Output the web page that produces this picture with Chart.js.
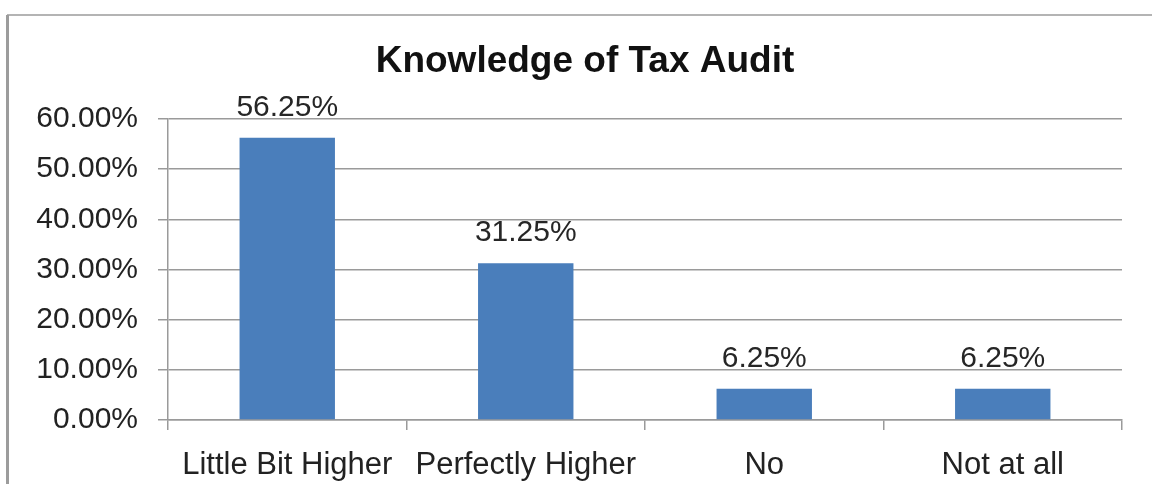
<!DOCTYPE html>
<html>
<head>
<meta charset="utf-8">
<title>Knowledge of Tax Audit</title>
<script src="https://cdn.jsdelivr.net/npm/chart.js@4/dist/chart.umd.min.js"></script>
<style>
  html, body { margin: 0; padding: 0; background: #fff; }
  #wrap { width: 1152px; height: 484px; }
</style>
</head>
<body>
<div id="wrap"><canvas id="myChart" width="1152" height="484"></canvas></div>
<script>
// Survey answers (percent of respondents)
const chartTitle = 'Knowledge of Tax Audit';
const categories = ['Little Bit Higher', 'Perfectly Higher', 'No', 'Not at all'];
const shares = [56.25, 31.25, 6.25, 6.25];
const yTicks = [0, 10, 20, 30, 40, 50, 60];

const FONT = "'Liberation Sans', Arial, sans-serif";
const gridGray = '#9a9a9a';

// white background, frame lines along the top and left edge, and the heading
const framePlugin = {
    id: 'frame',
    beforeDraw(chart) {
        const c = chart.ctx;
        c.save();
        c.fillStyle = '#fff';
        c.fillRect(0, 0, chart.width, chart.height);
        c.strokeStyle = '#b4b4b4';
        c.lineWidth = 2;
        c.beginPath();
        c.moveTo(7, 15);
        c.lineTo(chart.width, 15);
        c.stroke();
        c.strokeStyle = '#9c9c9c';
        c.lineWidth = 3;
        c.beginPath();
        c.moveTo(7.5, 15);
        c.lineTo(7.5, chart.height);
        c.stroke();

        // heading sits a little right of the canvas centre
        c.font = 'bold 37px ' + FONT;
        c.fillStyle = '#111';
        c.textAlign = 'center';
        c.textBaseline = 'alphabetic';
        c.fillText(chartTitle, 585, 72);
        c.restore();
    }
};

// value text above each bar
const valueLabels = {
    id: 'valueLabels',
    afterDatasetsDraw(chart) {
        const c = chart.ctx;
        const meta = chart.getDatasetMeta(0);
        c.save();
        c.font = '30px ' + FONT;
        c.fillStyle = '#262626';
        c.textAlign = 'center';
        c.textBaseline = 'alphabetic';
        meta.data.forEach((bar, i) => {
            c.fillText(shares[i].toFixed(2) + '%', bar.x, bar.y - 22);
        });
        c.restore();
    }
};

const ctx = document.getElementById('myChart').getContext('2d');
const myChart = new Chart(ctx, {
    type: 'bar',
    data: {
        labels: categories,
        datasets: [{
            label: chartTitle,
            data: shares,
            backgroundColor: '#4a7ebb',
            borderWidth: 0,
            barPercentage: 0.4,
            categoryPercentage: 1.0
        }]
    },
    options: {
        responsive: false,
        animation: false,
        layout: { padding: { left: 0, right: 30, top: 119, bottom: 0 } },
        plugins: {
            legend: { display: false },
            tooltip: { enabled: false },
            title: { display: false }
        },
        scales: {
            x: {
                offset: true,
                grid: {
                    offset: true,
                    drawOnChartArea: false,
                    drawTicks: true,
                    tickLength: 10,
                    color: gridGray,
                    lineWidth: 1.5
                },
                border: { display: true, color: gridGray, width: 1.5 },
                ticks: {
                    color: '#222',
                    padding: 17,
                    maxRotation: 0,
                    font: { family: FONT, size: 31 }
                },
                afterFit(scale) { scale.height = 64; }
            },
            y: {
                min: 0,
                max: 60,
                afterBuildTicks(scale) {
                    scale.ticks = yTicks.map(v => ({ value: v }));
                },
                grid: {
                    color: gridGray,
                    lineWidth: 1.5,
                    drawTicks: true,
                    tickLength: 10
                },
                border: { display: true, color: gridGray, width: 1.5 },
                ticks: {
                    color: '#222',
                    padding: 20,
                    font: { family: FONT, size: 30 },
                    callback: v => v.toFixed(2) + '%'
                },
                afterFit(scale) { scale.width = 168; }
            }
        }
    },
    plugins: [framePlugin, valueLabels]
});
</script>
</body>
</html>
